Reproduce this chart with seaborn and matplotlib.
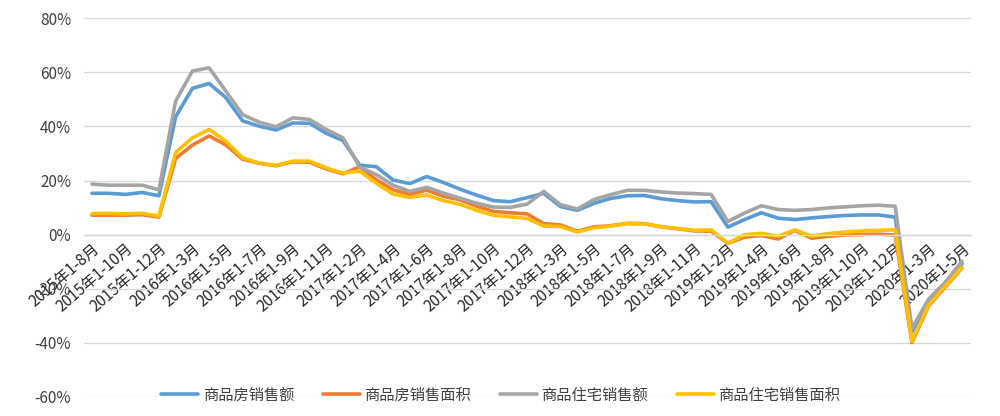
import numpy as np
import pandas as pd
import matplotlib
matplotlib.use("Agg")
import matplotlib.pyplot as plt
import seaborn as sns
from matplotlib.ticker import FuncFormatter, MultipleLocator
from matplotlib.lines import Line2D

# ---------------- data ----------------
years_months = []
for m in range(8, 13):
    years_months.append(f"2015年1-{m}月")
for y in (2016, 2017, 2018, 2019):
    for m in range(2, 13):
        years_months.append(f"{y}年1-{m}月")
for m in range(2, 6):
    years_months.append(f"2020年1-{m}月")
periods = years_months

series_names = ["商品房销售额", "商品房销售面积", "商品住宅销售额", "商品住宅销售面积"]

sales_amount = [
    15.3, 15.3, 14.9, 15.6, 14.4,
    43.6, 54.1, 55.9, 50.7, 42.1, 40.1, 38.7, 41.3, 41.2, 37.5, 34.8,
    25.7, 25.1, 20.2, 18.9, 21.5, 19.3, 16.8, 14.6, 12.6, 12.2, 13.7,
    15.3, 10.4, 9.0, 11.6, 13.4, 14.4, 14.5, 13.3, 12.6, 12.1, 12.2,
    2.8, 5.6, 8.1, 6.1, 5.6, 6.2, 6.7, 7.1, 7.3, 7.3, 6.5,
    -35.9, -24.7, -18.6, -10.6,
]
sales_area = [
    7.2, 7.2, 7.2, 7.4, 6.5,
    28.2, 33.1, 36.5, 33.2, 27.9, 26.4, 25.5, 26.9, 26.8, 24.3, 22.5,
    25.1, 20.3, 16.6, 14.9, 16.5, 14.2, 12.9, 10.5, 8.6, 8.1, 7.7,
    4.1, 3.6, 1.3, 2.9, 3.3, 4.2, 4.1, 2.9, 2.2, 1.4, 1.3,
    -3.2, -0.9, -0.3, -1.6, 1.6, -1.3, -0.6, -0.1, 0.1, 0.2, -0.1,
    -39.9, -26.3, -19.3, -12.3,
]
resi_amount = [
    18.7, 18.3, 18.3, 18.3, 16.6,
    49.4, 60.5, 61.7, 53.1, 44.4, 41.6, 39.9, 43.2, 42.6, 38.9, 35.8,
    25.0, 22.2, 18.3, 16.0, 17.5, 15.4, 13.5, 11.6, 10.2, 10.1, 11.3,
    16.0, 11.1, 9.5, 13.0, 14.8, 16.4, 16.4, 15.8, 15.4, 15.2, 14.9,
    4.9, 8.0, 10.7, 9.3, 9.0, 9.3, 9.9, 10.3, 10.7, 10.9, 10.5,
    -34.7, -23.8, -17.5, -9.8,
]
resi_area = [
    7.8, 7.9, 7.7, 7.9, 6.9,
    30.4, 35.8, 38.9, 34.6, 28.4, 26.5, 25.6, 27.2, 27.2, 24.7, 22.8,
    23.5, 19.0, 15.0, 13.8, 14.7, 12.6, 11.2, 9.0, 7.2, 6.6, 6.0,
    3.2, 3.0, 1.0, 2.5, 3.2, 4.1, 4.0, 3.0, 2.3, 1.6, 1.8,
    -3.2, 0.0, 0.5, -0.6, 1.8, -0.5, 0.4, 1.0, 1.4, 1.6, 1.8,
    -39.4, -26.0, -19.0, -12.0,
]

colors = ["#5B9BD5", "#ED7D31", "#A5A5A5", "#FFC000"]

# ---------------- build frame ----------------
pos = np.arange(len(periods))
frames = []
for name, vals in zip(series_names, [sales_amount, sales_area, resi_amount, resi_area]):
    frames.append(pd.DataFrame({"pos": pos, "period": periods, "value": vals, "series": name}))
df = pd.concat(frames, ignore_index=True)

# ---------------- plot ----------------
sns.set_theme(style="white")
plt.rcParams['font.family'] = ['Noto Sans CJK SC', 'DejaVu Sans']
plt.rcParams['axes.unicode_minus'] = False

fig = plt.figure(figsize=(10, 4.16), dpi=100)
ax = fig.add_axes([0.0836, 0.0457, 0.8869, 0.9103])

sns.lineplot(data=df, x="pos", y="value", hue="series", hue_order=series_names,
             palette=colors, linewidth=2.6, ax=ax, legend=False, sort=False)

ax.set_xlim(-0.5, len(periods) - 0.5)
ax.set_ylim(-60, 80)
ax.yaxis.set_major_locator(MultipleLocator(20))
ax.yaxis.set_major_formatter(FuncFormatter(lambda v, p: f"{v:.0f}%"))
ax.yaxis.grid(True, color="#D9D9D9", linewidth=1.0)
ax.xaxis.grid(False)
ax.set_axisbelow(True)

for s in ["top", "right", "left"]:
    ax.spines[s].set_visible(False)
ax.spines["bottom"].set_position(("data", 0))
ax.spines["bottom"].set_color("#D9D9D9")
ax.spines["bottom"].set_linewidth(1.0)

ax.set_xticks(pos[::2])
ax.set_xticklabels(periods[::2], rotation=41, ha="right", rotation_mode="anchor",
                   fontsize=11, color="#262626")
ax.tick_params(axis="x", length=0, pad=4)
ax.tick_params(axis="y", length=0, pad=9, labelsize=11, labelcolor="#404040")
ax.set_xlabel("")
ax.set_ylabel("")

handles = [Line2D([0], [0], color=c, linewidth=2.6) for c in colors]
fig.legend(handles, series_names, loc="center", bbox_to_anchor=(0.501, 0.05), ncol=4,
           frameon=False, fontsize=11, handlelength=2.4, handletextpad=0.3,
           columnspacing=1.9, labelcolor="#404040")

fig.savefig("out.png", dpi=100)
